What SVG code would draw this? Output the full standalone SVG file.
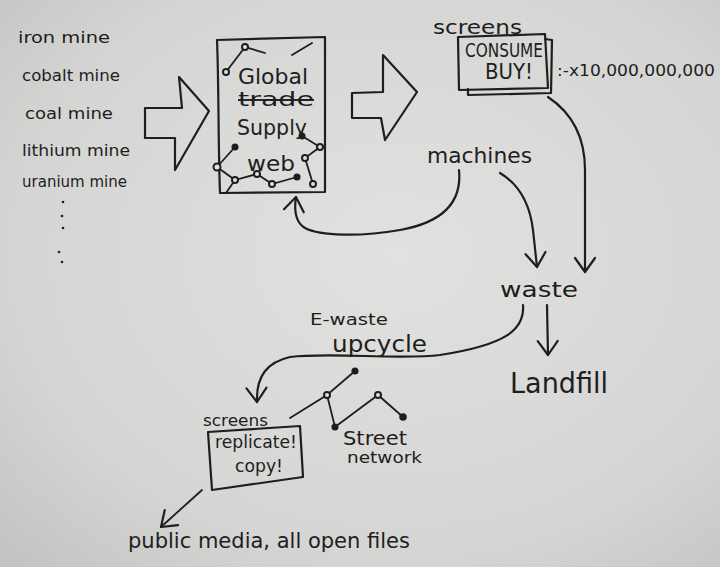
<svg xmlns="http://www.w3.org/2000/svg" width="720" height="567" viewBox="0 0 720 567">
<defs>
<radialGradient id="bg" cx="0.55" cy="0.45" r="0.75">
<stop offset="0" stop-color="#e1e1df"/>
<stop offset="0.7" stop-color="#d5d5d3"/>
<stop offset="1" stop-color="#c4c4c4"/>
</radialGradient>
<marker id="v" markerUnits="userSpaceOnUse" markerWidth="30" markerHeight="30" viewBox="-15 -15 30 30" refX="0" refY="0" orient="auto" overflow="visible">
<path d="M-14,-10 L0,0 L-14,10" fill="none" stroke="#1e1e1e" stroke-width="2.2" stroke-linecap="round" stroke-linejoin="round"/>
</marker>
<style>
.ink{fill:none;stroke:#1e1e1e;stroke-width:2.2;stroke-linecap:round;stroke-linejoin:round}
.thin{fill:none;stroke:#1e1e1e;stroke-width:1.8;stroke-linecap:round}
.nd{fill:#e0e0de;stroke:#1e1e1e;stroke-width:2}
.ndf{fill:#1e1e1e;stroke:#1e1e1e;stroke-width:1.5}
text{font-family:"DejaVu Sans","Liberation Sans",sans-serif;fill:#1e1e1e}
.s{font-size:15px}
.m{font-size:19px}
.l{font-size:22px}
</style>
</defs>
<rect width="720" height="567" fill="url(#bg)"/>

<g id="mines">
<text class="s" x="18" y="43" textLength="92" lengthAdjust="spacingAndGlyphs">iron mine</text>
<text class="s" x="22" y="81" textLength="98" lengthAdjust="spacingAndGlyphs">cobalt mine</text>
<text class="s" x="25" y="119" textLength="88" lengthAdjust="spacingAndGlyphs">coal mine</text>
<text class="s" x="22" y="156" textLength="108" lengthAdjust="spacingAndGlyphs">lithium mine</text>
<text class="s" x="22" y="187" textLength="105" lengthAdjust="spacingAndGlyphs">uranium mine</text>
<g fill="#1e1e1e">
<circle cx="63" cy="202" r="1.3"/><circle cx="62" cy="216" r="1.3"/><circle cx="63" cy="228" r="1.3"/><circle cx="59" cy="252" r="1.3"/><circle cx="62" cy="262" r="1.3"/>
</g>
</g>

<g id="arrow1">
<path class="ink" d="M145,108 L182,108 L179,77 L209,111 L175,170 L175,138 L145,138 Z"/>
</g>

<g id="supplyweb">
<path class="ink" d="M217,40 L325,37 L325,192 L220,193 C218,140 219,90 217,40 Z"/>
<text class="l" x="238" y="84" textLength="70" lengthAdjust="spacingAndGlyphs">Global</text>
<text class="m" x="238" y="106" textLength="76" lengthAdjust="spacingAndGlyphs" text-decoration="line-through">trade</text>
<text class="l" x="237" y="135" textLength="70" lengthAdjust="spacingAndGlyphs">Supply</text>
<text class="l" x="247" y="171" textLength="48" lengthAdjust="spacingAndGlyphs">web</text>
<path class="thin" d="M226,72 L245,47 L265,53 M292,55 L312,43 M235,147 L217,167 L235,180 L257,174 L272,184 L297,177 M302,136 L320,147 L305,158 L313,184 M235,180 L226,193"/>
<circle class="nd" cx="245" cy="47" r="3"/><circle class="nd" cx="226" cy="72" r="3"/>
<circle class="ndf" cx="235" cy="147" r="2.8"/><circle class="nd" cx="217" cy="167" r="3.5"/><circle class="nd" cx="235" cy="180" r="3"/>
<circle class="nd" cx="257" cy="174" r="3"/><circle class="nd" cx="272" cy="184" r="3"/><circle class="ndf" cx="297" cy="177" r="2.8"/>
<circle class="ndf" cx="302" cy="136" r="2.8"/><circle class="nd" cx="320" cy="147" r="3"/><circle class="nd" cx="305" cy="158" r="3"/><circle class="nd" cx="313" cy="184" r="3"/>
</g>

<g id="arrow2">
<path class="ink" d="M352,93 L383,92 L383,55 L417,92 L385,140 L381,118 L352,118 Z"/>
</g>

<g id="screens-consume">
<text class="m" x="433" y="34" textLength="89" lengthAdjust="spacingAndGlyphs">screens</text>
<path class="ink" d="M545,39 L552,40 L551,93 L468,95 L468,89"/>
<path class="ink" d="M458,37 L545,34 L548,88 L459,90 Z"/>
<text class="m" x="465" y="57" textLength="78" lengthAdjust="spacingAndGlyphs">CONSUME</text>
<text class="l" x="485" y="79" textLength="48" lengthAdjust="spacingAndGlyphs">BUY!</text>
<text class="s" x="557" y="76" textLength="158" lengthAdjust="spacingAndGlyphs">:-x10,000,000,000</text>
</g>

<g id="machines">
<text class="l" x="427" y="163" textLength="105" lengthAdjust="spacingAndGlyphs">machines</text>
</g>

<g id="waste">
<text class="l" x="500" y="297" textLength="78" lengthAdjust="spacingAndGlyphs">waste</text>
</g>

<g id="landfill">
<text x="510" y="393" font-size="28" textLength="98" lengthAdjust="spacingAndGlyphs">Landfill</text>
</g>

<g id="upcycle">
<text class="s" x="310" y="325" textLength="78" lengthAdjust="spacingAndGlyphs">E-waste</text>
<text x="332" y="352" font-size="23" textLength="95" lengthAdjust="spacingAndGlyphs">upcycle</text>
</g>

<g id="street-network">
<path class="thin" d="M290,418 L327,395 L355,371 M327,395 L335,427 L378,395 L403,417"/>
<circle class="ndf" cx="355" cy="371" r="2.8"/><circle class="nd" cx="327" cy="395" r="3"/><circle class="ndf" cx="335" cy="427" r="2.8"/><circle class="nd" cx="378" cy="395" r="3"/><circle class="ndf" cx="403" cy="417" r="3"/>
<text class="m" x="343" y="445" textLength="64" lengthAdjust="spacingAndGlyphs">Street</text>
<text class="s" x="347" y="463" textLength="75" lengthAdjust="spacingAndGlyphs">network</text>
</g>

<g id="screens-replicate">
<text class="s" x="203" y="426" textLength="65" lengthAdjust="spacingAndGlyphs">screens</text>
<path class="ink" d="M208,432 L300,426 L303,477 L212,490 Z"/>
<text x="215" y="448" font-size="17" textLength="82" lengthAdjust="spacingAndGlyphs">replicate!</text>
<text x="235" y="472" font-size="17" textLength="48" lengthAdjust="spacingAndGlyphs">copy!</text>
</g>

<g id="public">
<text class="l" x="128" y="548" textLength="282" lengthAdjust="spacingAndGlyphs">public media, all open files</text>
</g>

<g id="connectors">
<path class="ink" marker-end="url(#v)" d="M459,170 C462,200 445,222 400,230 C360,237 320,236 305,228 C295,222 294,210 296,197"/>
<path class="ink" marker-end="url(#v)" d="M500,173 C520,185 530,205 533,230 L537,267"/>
<path class="ink" marker-end="url(#v)" d="M548,97 C575,115 585,140 585,170 L585,272"/>
<path class="ink" marker-end="url(#v)" d="M547,305 L548,355"/>
<path class="ink" marker-end="url(#v)" d="M523,305 C525,330 505,345 440,355 C400,360 330,352 290,357 C268,362 256,375 257,402"/>
<path class="thin" marker-end="url(#v)" d="M202,490 L161,527"/>
</g>
</svg>
